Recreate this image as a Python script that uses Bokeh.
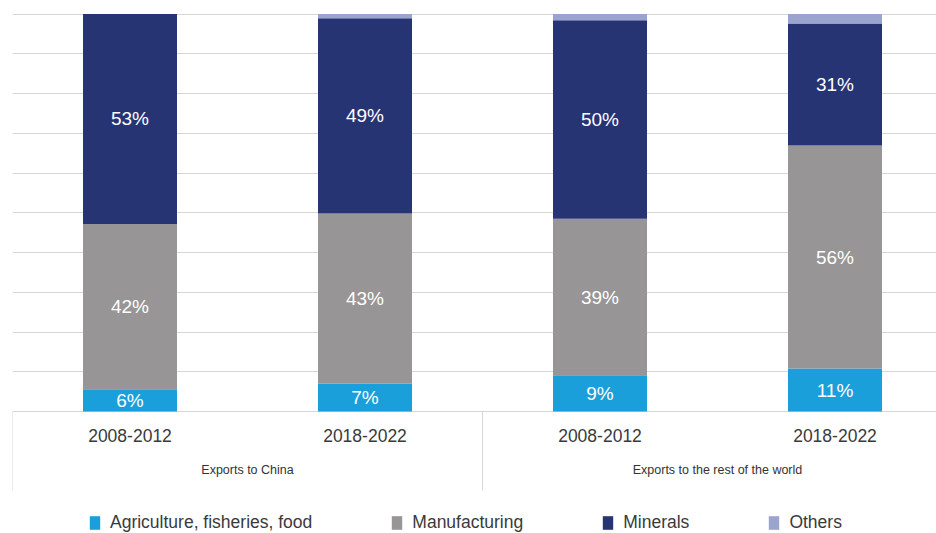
from bokeh.plotting import figure
from bokeh.models import ColumnDataSource, Range1d, Grid, FixedTicker, Legend, LegendItem
from bokeh.core.properties import value
from bokeh.embed import file_html
from bokeh.resources import INLINE

# ---------------- data ----------------
groups = ["Exports to China", "Exports to the rest of the world"]
periods = ["2008-2012", "2018-2022", "2008-2012", "2018-2022"]
bar_group = [0, 0, 1, 1]
series = ["Agriculture, fisheries, food", "Manufacturing", "Minerals", "Others"]
agriculture = [5.6, 7.0, 9.1, 10.8]
manufacturing = [41.6, 42.8, 39.4, 56.1]
minerals = [52.8, 49.1, 49.9, 30.7]
others = [0.0, 1.1, 1.6, 2.4]
labelled = [True, True, True, False]

# ---------------- styles ----------------
colors = ["#1A9FDB", "#979595", "#273474", "#9AA4CF"]
FONT = value("Liberation Sans")
PX_PER_CAT = 235.0
PX_PER_UNIT = 3.975

n = len(periods)
xs = [i + 0.5 for i in range(n)]
keys = ["s%d" % k for k in range(len(series))]
src = ColumnDataSource(dict(x=xs, **{k: v for k, v in zip(keys, [agriculture, manufacturing, minerals, others])}))

W, H = 936, 533
LEFT = 12
frame_w = W - LEFT
p = figure(width=W, height=H,
           x_range=Range1d(0, frame_w / PX_PER_CAT),
           y_range=Range1d(-122 / PX_PER_UNIT, 100 + 13.5 / PX_PER_UNIT),
           x_axis_location=None, y_axis_location=None,
           toolbar_location=None, output_backend="svg",
           min_border_left=LEFT, min_border_right=0, min_border_top=0, min_border_bottom=0)
p.outline_line_color = None
p.background_fill_color = "white"
p.border_fill_color = "white"

# remove default grids, add our own horizontal grid
for r in list(p.center):
    if isinstance(r, Grid):
        p.center.remove(r)
grid = Grid(dimension=1, ticker=FixedTicker(ticks=list(range(0, 101, 10))),
            grid_line_color="#d6d6d6", grid_line_width=1)
p.add_layout(grid)

renderers = p.vbar_stack(keys, x="x", width=94 / PX_PER_CAT, fill_color=colors,
                         line_color=None, source=src)

# data labels
lab_x, lab_y, lab_t = [], [], []
bottom = [0.0] * n
for vals, lab in zip([agriculture, manufacturing, minerals, others], labelled):
    for i, v in enumerate(vals):
        if lab and v > 0:
            lab_x.append(xs[i])
            lab_y.append(bottom[i] + v / 2)
            lab_t.append("%d%%" % round(v))
        bottom[i] += v
p.text(x=lab_x, y=lab_y, text=lab_t, text_color="white", text_font=FONT,
       text_font_size="19px", text_align="center", text_baseline="middle")

# category labels
p.text(x=xs, y=[-24 / PX_PER_UNIT] * n, text=periods, text_color="#3a3a3a", text_font=FONT,
       text_font_size="17.5px", text_align="center", text_baseline="middle")
gx = []
for g in range(len(groups)):
    members = [xs[i] for i in range(n) if bar_group[i] == g]
    gx.append(sum(members) / len(members))
p.text(x=gx, y=[-58 / PX_PER_UNIT] * len(groups), text=groups, text_color="#333333", text_font=FONT,
       text_font_size="12.5px", text_align="center", text_baseline="middle")

# group separators
bounds = [0.0]
for g in range(len(groups)):
    bounds.append(bounds[-1] + sum(1 for b in bar_group if b == g))
p.segment(x0=bounds, y0=[0] * len(bounds), x1=bounds, y1=[-79 / PX_PER_UNIT] * len(bounds),
          line_color="#d6d6d6", line_width=1)

items = [LegendItem(label=s, renderers=[r]) for s, r in zip(series, renderers)]
legend = Legend(items=items, orientation="horizontal", location=(76, 0), spacing=78,
                padding=0, margin=0, glyph_width=13, glyph_height=17, label_standoff=9,
                label_text_font="Liberation Sans", label_text_font_size="17.5px",
                label_text_color="#3a3a3a", background_fill_alpha=0, border_line_color=None)
p.add_layout(legend)

open("out.html", "w").write(file_html(p, INLINE))
